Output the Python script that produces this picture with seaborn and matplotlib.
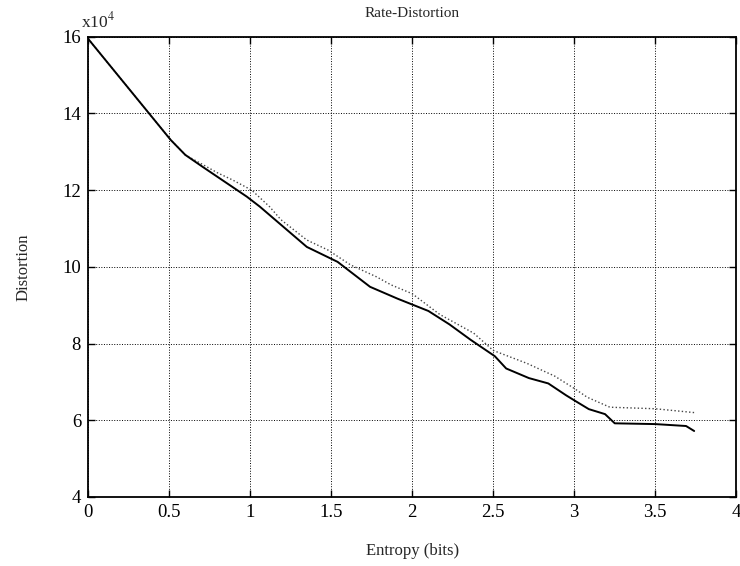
import pandas as pd
import matplotlib
matplotlib.use("Agg")
import matplotlib.pyplot as plt
import seaborn as sns

# ----------- DONNÉES (unités de 1e4) --------------------------------

entropy_solid = [0.0, 0.51, 0.6, 0.71, 0.98, 1.06, 1.35, 1.54, 1.74, 1.91, 2.1, 2.23,
                 2.36, 2.51, 2.58, 2.72, 2.84, 2.95, 3.0, 3.09, 3.19, 3.25, 3.5, 3.69, 3.74]
distortion_solid = [15.95, 13.31, 12.92, 12.6, 11.83, 11.57, 10.52, 10.13, 9.48, 9.17, 8.85,
                    8.5, 8.1, 7.67, 7.35, 7.1, 6.96, 6.65, 6.52, 6.29, 6.16, 5.92, 5.9, 5.85, 5.72]

entropy_dotted = [0.0, 0.51, 0.6, 0.69, 0.8, 0.89, 1.01, 1.12, 1.19, 1.35, 1.48, 1.62,
                  1.78, 1.87, 2.0, 2.17, 2.38, 2.5, 2.71, 2.88, 3.0, 3.08, 3.22, 3.5, 3.74]
distortion_dotted = [15.95, 13.31, 12.92, 12.71, 12.45, 12.27, 12.0, 11.57, 11.23, 10.7,
                     10.44, 10.05, 9.74, 9.53, 9.3, 8.76, 8.27, 7.82, 7.48, 7.15, 6.83,
                     6.6, 6.34, 6.3, 6.2]

x_ticks = [0, 0.5, 1, 1.5, 2, 2.5, 3, 3.5, 4]
y_ticks = [4, 6, 8, 10, 12, 14, 16]

df_solid = pd.DataFrame({'entropy': entropy_solid, 'distortion': distortion_solid})
df_dotted = pd.DataFrame({'entropy': entropy_dotted, 'distortion': distortion_dotted})

# ----------- STYLE ------------

sns.set_style("ticks")
plt.rcParams['font.family'] = ['Liberation Serif', 'DejaVu Serif']
plt.rcParams['mathtext.fontset'] = 'stix'

fig = plt.figure(figsize=(7.4, 5.66), dpi=100)
ax = fig.add_axes([0.119, 0.122, 0.876, 0.813])

sns.lineplot(data=df_dotted, x='entropy', y='distortion', ax=ax, color='#444444',
             linestyle=':', linewidth=1.0, sort=False)
sns.lineplot(data=df_solid, x='entropy', y='distortion', ax=ax, color='black',
             linewidth=1.4, sort=False)

ax.set_xlim(0, 4)
ax.set_ylim(4, 16)
ax.set_xticks(x_ticks)
ax.set_xticklabels([f"{t:g}" for t in x_ticks])
ax.set_yticks(y_ticks)
ax.set_yticklabels([f"{t:g}" for t in y_ticks])

ax.grid(True, color='black', linestyle=':', linewidth=0.7)
for s in ax.spines.values():
    s.set_visible(True)
    s.set_linewidth(1.3)
    s.set_color('black')
ax.tick_params(direction='in', length=5, width=1, top=True, right=True,
               labelsize=13.5, colors='black', pad=5)

ax.set_xlabel('Entropy (bits)', fontsize=12, labelpad=16)
ax.set_ylabel('Distortion', fontsize=12, labelpad=22)
ax.set_title('Rate-Distortion', fontsize=11, pad=14)
ax.text(0.015, 1.012, r'x10$^4$', transform=ax.transAxes, ha='center', va='bottom', fontsize=12.5)

plt.savefig("out.png", dpi=100)
